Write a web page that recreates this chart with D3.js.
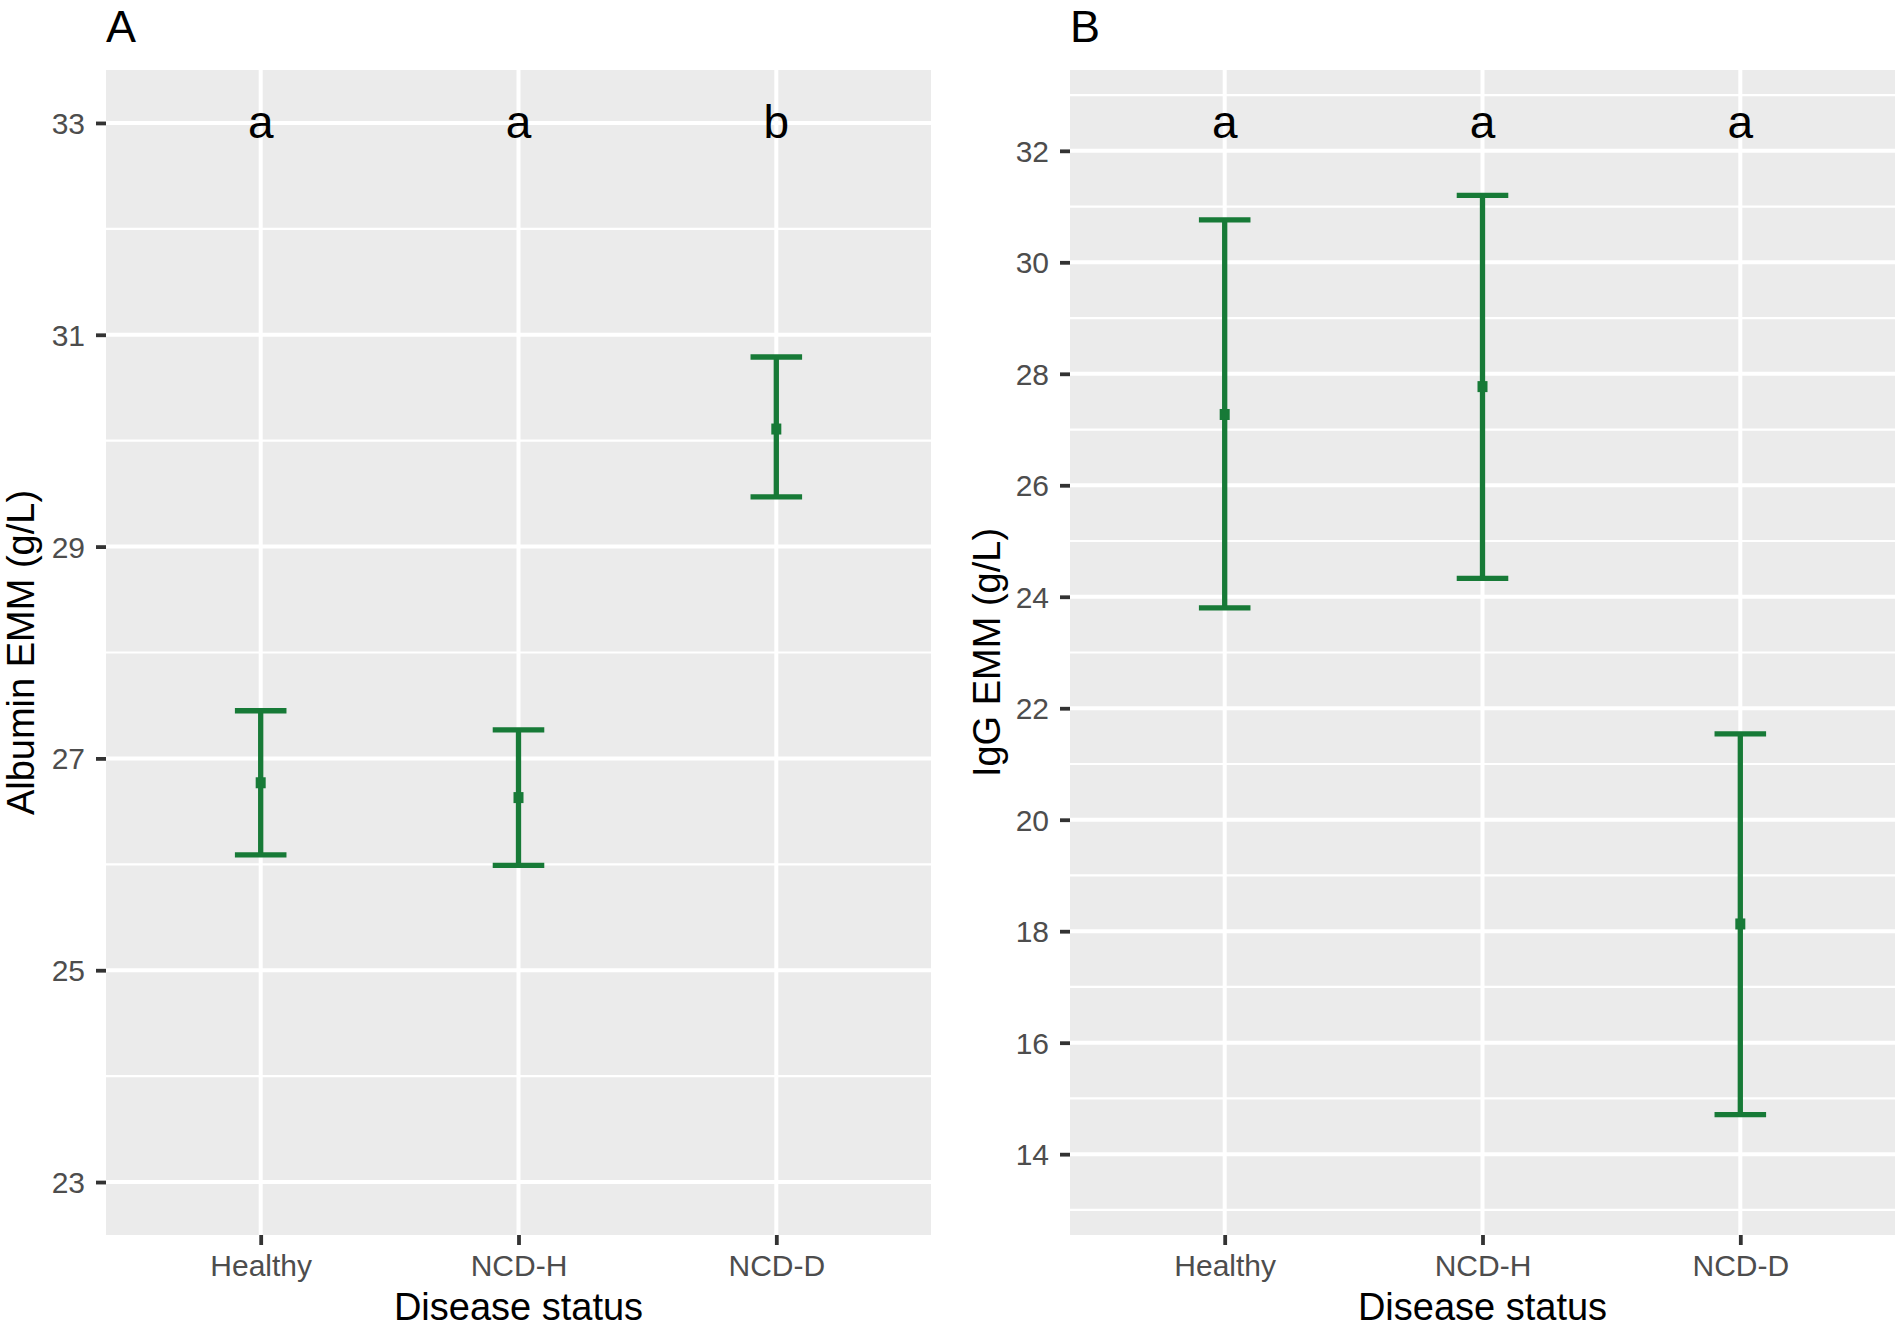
<!DOCTYPE html>
<html>
<head>
<meta charset="utf-8">
<script src="https://cdn.jsdelivr.net/npm/d3@7"></script>
<style>
  body { margin: 0; background: #fff; }
  svg { display: block; font-family: "Liberation Sans", Arial, sans-serif; }
</style>
</head>
<body>
<svg id="chart" width="1902" height="1329"></svg>
<script>
// categories shared by both panels
var categories = ["Healthy", "NCD-H", "NCD-D"];

// panel A: albumin
var albuminMean = [26.77, 26.63, 30.11];
var albuminLower = [26.09, 25.99, 29.47];
var albuminUpper = [27.45, 27.27, 30.79];
var albuminLetters = ["a", "a", "b"];
var albuminLetterY = 33;
var albuminLimits = [23, 33];
var albuminTicks = [23, 25, 27, 29, 31, 33];
var albuminMinor = [24, 26, 28, 30, 32];

// panel B: IgG
var iggMean = [27.27, 27.77, 18.13];
var iggLower = [23.80, 24.33, 14.71];
var iggUpper = [30.76, 31.20, 21.54];
var iggLetters = ["a", "a", "a"];
var iggLetterY = 32.5;
var iggLimits = [13.5, 32.5];
var iggTicks = [14, 16, 18, 20, 22, 24, 26, 28, 30, 32];
var iggMinor = [13, 15, 17, 19, 21, 23, 25, 27, 29, 31, 33];

var GREEN = "#177a37";
var PANEL_BG = "#ebebeb";
var TICK_COL = "#333333";
var LABEL_COL = "#4d4d4d";

var svg = d3.select("#chart");

function drawPanel(opt) {
  var left = opt.left, right = opt.right, top = 70, bottom = 1235;
  var lo = opt.limits[0], hi = opt.limits[1];
  var pad = (hi - lo) * 0.05;

  var x = d3.scalePoint().domain(categories).range([left, right]).padding(0.6);
  var y = d3.scaleLinear().domain([lo - pad, hi + pad]).range([bottom, top]);
  var capW = x.step() * 0.2;

  var g = svg.append("g");

  g.append("rect")
    .attr("x", left).attr("y", top)
    .attr("width", right - left).attr("height", bottom - top)
    .attr("fill", PANEL_BG);

  // minor grid first, then major
  g.selectAll(".minor").data(opt.minor).enter().append("line")
    .attr("x1", left).attr("x2", right)
    .attr("y1", function(d) { return y(d); })
    .attr("y2", function(d) { return y(d); })
    .attr("stroke", "#fff").attr("stroke-width", 2.2);

  g.selectAll(".majory").data(opt.ticks).enter().append("line")
    .attr("x1", left).attr("x2", right)
    .attr("y1", function(d) { return y(d); })
    .attr("y2", function(d) { return y(d); })
    .attr("stroke", "#fff").attr("stroke-width", 4);

  g.selectAll(".majorx").data(categories).enter().append("line")
    .attr("y1", top).attr("y2", bottom)
    .attr("x1", function(d) { return x(d); })
    .attr("x2", function(d) { return x(d); })
    .attr("stroke", "#fff").attr("stroke-width", 4);

  // error bars
  var bars = g.selectAll(".bar").data(categories).enter().append("g");
  bars.append("line")
    .attr("x1", function(d) { return x(d); })
    .attr("x2", function(d) { return x(d); })
    .attr("y1", function(d, i) { return y(opt.upper[i]); })
    .attr("y2", function(d, i) { return y(opt.lower[i]); })
    .attr("stroke", GREEN).attr("stroke-width", 5.3);
  bars.append("line")
    .attr("x1", function(d) { return x(d) - capW / 2; })
    .attr("x2", function(d) { return x(d) + capW / 2; })
    .attr("y1", function(d, i) { return y(opt.upper[i]); })
    .attr("y2", function(d, i) { return y(opt.upper[i]); })
    .attr("stroke", GREEN).attr("stroke-width", 5.3);
  bars.append("line")
    .attr("x1", function(d) { return x(d) - capW / 2; })
    .attr("x2", function(d) { return x(d) + capW / 2; })
    .attr("y1", function(d, i) { return y(opt.lower[i]); })
    .attr("y2", function(d, i) { return y(opt.lower[i]); })
    .attr("stroke", GREEN).attr("stroke-width", 5.3);
  bars.append("rect")
    .attr("x", function(d) { return x(d) - 5; })
    .attr("y", function(d, i) { return y(opt.mean[i]) - 5.5; })
    .attr("width", 10).attr("height", 11)
    .attr("fill", GREEN);

  // significance letters
  g.selectAll(".letter").data(categories).enter().append("text")
    .attr("x", function(d) { return x(d); })
    .attr("y", y(opt.letterY))
    .attr("dy", 15)
    .attr("text-anchor", "middle")
    .attr("font-size", 46)
    .attr("fill", "#000")
    .text(function(d, i) { return opt.letters[i]; });

  // axes
  var yAxis = g.append("g")
    .attr("transform", "translate(" + left + ",0)")
    .call(d3.axisLeft(y).tickValues(opt.ticks).tickSize(10).tickPadding(11).tickFormat(d3.format("d")));
  var xAxis = g.append("g")
    .attr("transform", "translate(0," + bottom + ")")
    .call(d3.axisBottom(x).tickSize(10).tickPadding(10));

  [yAxis, xAxis].forEach(function(ax) {
    ax.select(".domain").remove();
    ax.selectAll(".tick line").attr("stroke", TICK_COL).attr("stroke-width", 3.8);
    ax.selectAll(".tick text")
      .attr("fill", LABEL_COL)
      .attr("font-size", 30)
      .attr("font-family", "Liberation Sans, Arial, sans-serif");
  });
  yAxis.selectAll(".tick text").attr("dy", "0.35em");
  xAxis.selectAll(".tick text").attr("dy", "0.71em");

  // titles
  g.append("text")
    .attr("x", (left + right) / 2).attr("y", 1320)
    .attr("text-anchor", "middle").attr("font-size", 38).attr("fill", "#000")
    .text("Disease status");

  g.append("text")
    .attr("transform", "translate(" + opt.yTitleX + "," + ((top + bottom) / 2) + ") rotate(-90)")
    .attr("text-anchor", "middle").attr("font-size", 38).attr("fill", "#000")
    .text(opt.yTitle);

  g.append("text")
    .attr("x", left).attr("y", 42)
    .attr("font-size", 45).attr("fill", "#000")
    .text(opt.tag);
}

drawPanel({
  tag: "A", left: 106, right: 931, yTitleX: 34,
  yTitle: "Albumin EMM (g/L)",
  limits: albuminLimits, ticks: albuminTicks, minor: albuminMinor,
  mean: albuminMean, lower: albuminLower, upper: albuminUpper,
  letters: albuminLetters, letterY: albuminLetterY
});

drawPanel({
  tag: "B", left: 1070, right: 1895, yTitleX: 1000,
  yTitle: "IgG EMM (g/L)",
  limits: iggLimits, ticks: iggTicks, minor: iggMinor,
  mean: iggMean, lower: iggLower, upper: iggUpper,
  letters: iggLetters, letterY: iggLetterY
});
</script>
</body>
</html>
